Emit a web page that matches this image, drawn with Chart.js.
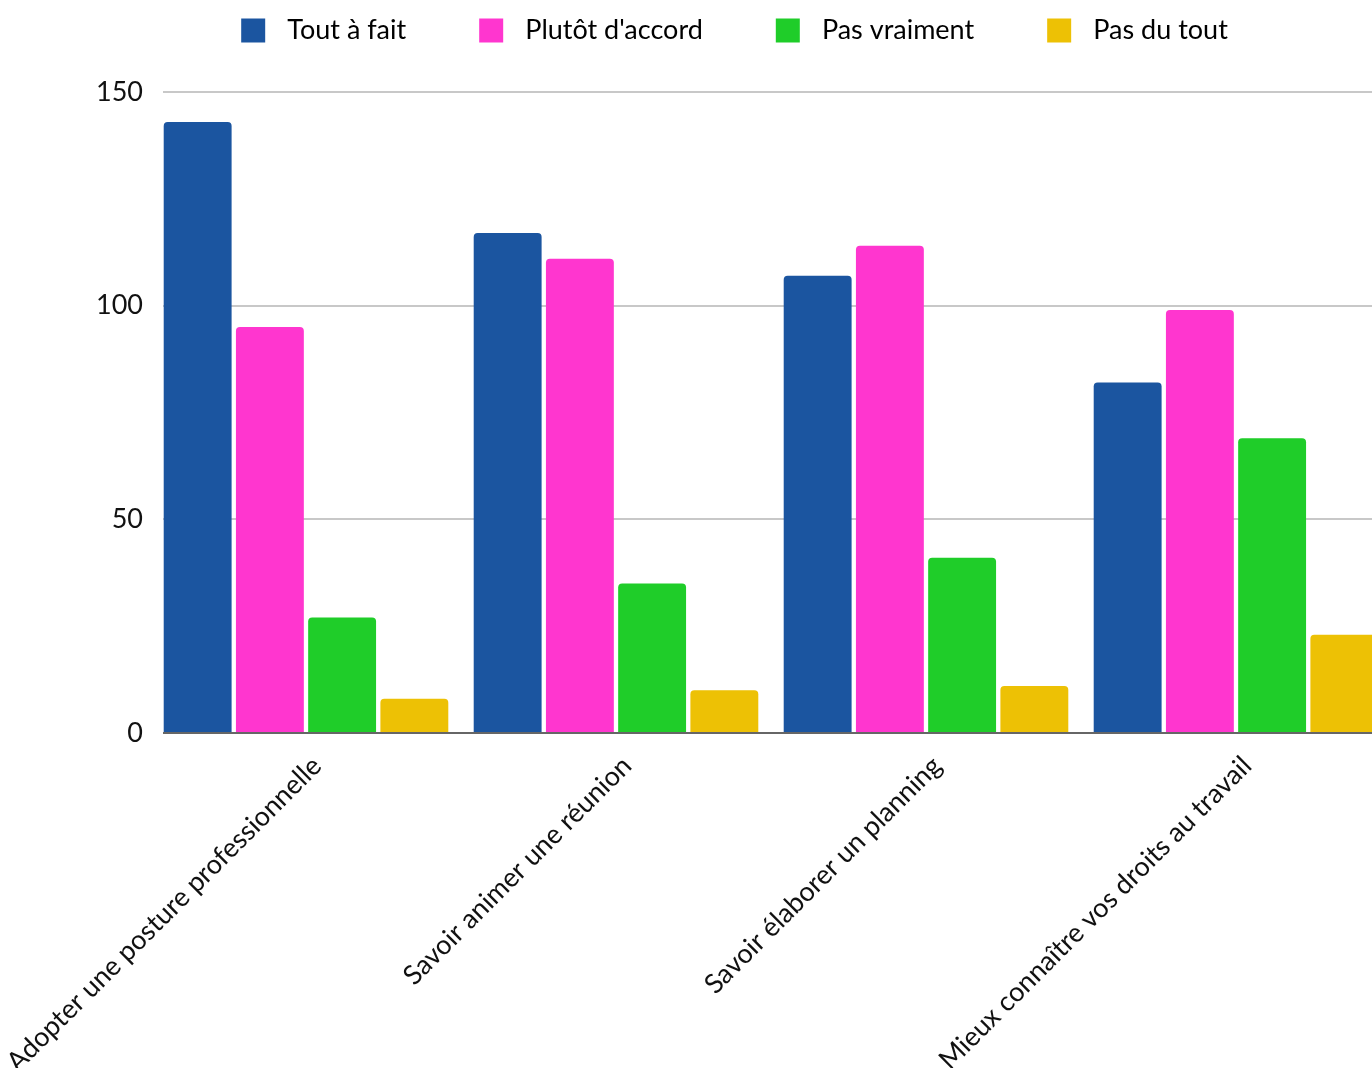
<!DOCTYPE html>
<html>
<head>
<meta charset="utf-8">
<script src="https://cdn.jsdelivr.net/npm/chart.js@4/dist/chart.umd.min.js"></script>
<style>
  html, body { margin: 0; padding: 0; background: #fff; overflow: hidden; }
  #wrap { width: 1470px; height: 1068px; }
</style>
</head>
<body>
<div id="wrap"><canvas id="chart"></canvas></div>
<script>
const categories = [
    "Adopter une posture professionnelle",
    "Savoir animer une réunion",
    "Savoir élaborer un planning",
    "Mieux connaître vos droits au travail"
];
const seriesNames = ["Tout à fait", "Plutôt d'accord", "Pas vraiment", "Pas du tout"];
const toutAFait = [143, 117, 107, 82];
const plutotDaccord = [95, 111, 114, 99];
const pasVraiment = [27, 35, 41, 69];
const pasDuTout = [8, 10, 11, 23];
const yTicks = [0, 50, 100, 150];
const colors = ["#1b55a0", "#ff36cf", "#1fcd29", "#edc105"];

Chart.defaults.font.family = "Lato";
Chart.defaults.color = "#1a1a1a";

const values = [toutAFait, plutotDaccord, pasVraiment, pasDuTout];
const datasets = seriesNames.map((name, i) => ({
    label: name,
    data: values[i],
    backgroundColor: colors[i],
    borderRadius: 4,
    borderSkipped: 'start',
    categoryPercentage: 0.932,
    barPercentage: 0.94
}));

// hides the part of the grid that sits under the category padding on the left
const gridMask = {
    id: 'gridMask',
    beforeDatasetsDraw(chart) {
        const a = chart.chartArea;
        const c = chart.ctx;
        c.save();
        c.fillStyle = '#fff';
        c.fillRect(a.left - 1, a.top - 3, 13, a.bottom - a.top + 6);
        c.restore();
    }
};

// legend sits a bit right of the plot centre in the original
const legendShift = {
    id: 'legendShift',
    afterLayout(chart) {
        chart.legend.left += 66;
        chart.legend.right += 66;
        chart.legend.top -= 38;
    }
};

const ctx = document.getElementById('chart').getContext('2d');
const chart = new Chart(ctx, {
    type: 'bar',
    data: { labels: categories, datasets: datasets },
    plugins: [gridMask, legendShift],
    options: {
        responsive: true,
        maintainAspectRatio: false,
        animation: false,
        layout: { padding: { top: 0, right: 79, left: 0, bottom: 0 } },
        plugins: {
            legend: {
                position: 'top',
                labels: {
                    boxWidth: 24,
                    boxHeight: 24,
                    padding: 19,
                    font: { size: 27 },
                    color: '#111',
                    generateLabels(chart) {
                        return chart.data.datasets.map((ds, i) => ({
                            text: ' \u200A' + ds.label + '\u2002\u2002\u2002\u2002',
                            fillStyle: ds.backgroundColor,
                            strokeStyle: ds.backgroundColor,
                            lineWidth: 0,
                            datasetIndex: i
                        }));
                    }
                }
            },
            tooltip: { enabled: false }
        },
        scales: {
            x: {
                grid: { display: false },
                border: { color: '#666', width: 2 },
                ticks: { font: { size: 27 }, color: '#111', minRotation: 45, maxRotation: 45, padding: 9, labelOffset: 11 },
                afterFit: s => { s.height = 335; s.paddingLeft = 0; s.paddingRight = 0; }
            },
            y: {
                min: 0,
                max: 150,
                afterBuildTicks: s => { s.ticks = yTicks.map(v => ({ value: v })); },
                grid: { color: '#c8c8c8', lineWidth: 2, drawTicks: false },
                border: { display: false },
                ticks: { font: { size: 27 }, color: '#111', padding: 8 },
                afterFit: s => { s.width = 151; s.paddingTop = 92; }
            }
        }
    }
});
</script>
</body>
</html>
